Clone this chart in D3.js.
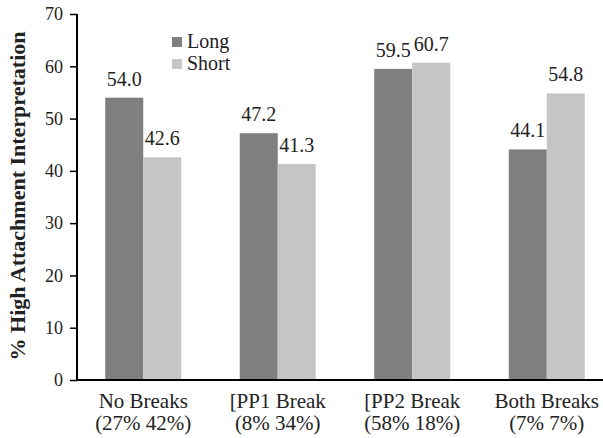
<!DOCTYPE html>
<html>
<head>
<meta charset="utf-8">
<script src="https://cdn.jsdelivr.net/npm/d3@7"></script>
<style>
  body { margin: 0; background: #fff; }
  text { font-family: "Liberation Serif", "DejaVu Serif", serif; fill: #222; }
</style>
</head>
<body>
<div id="chart"></div>
<script>
// grouped bars: long vs short, per break condition
var categories = ["No Breaks", "[PP1 Break", "[PP2 Break", "Both Breaks"];
var subLabels = ["(27% 42%)", "(8% 34%)", "(58% 18%)", "(7% 7%)"];
var longVals = [54.0, 47.2, 59.5, 44.1];
var shortVals = [42.6, 41.3, 60.7, 54.8];
var seriesNames = ["Long", "Short"];
var yTicks = [0, 10, 20, 30, 40, 50, 60, 70];

var colors = { Long: "#7f7f7f", Short: "#c4c5c5" };

var W = 603, H = 438;
var svg = d3.select("#chart").append("svg")
    .attr("width", W)
    .attr("height", H);

var y = d3.scaleLinear().domain([0, 70]).range([380, 14]);

// plot area runs a bit past the right edge of the picture
var x = d3.scaleBand()
    .domain(categories)
    .range([76, 614])
    .padding(0);

var x1 = d3.scaleBand()
    .domain(seriesNames)
    .range([0, 76]);

var data = categories.map(function (c, i) {
    return { cat: c, values: [{ key: "Long", v: longVals[i] }, { key: "Short", v: shortVals[i] }] };
});

// bars
var groups = svg.selectAll("g.grp")
    .data(data)
    .join("g")
    .attr("class", "grp")
    .attr("transform", d => "translate(" + (x(d.cat) + x.bandwidth() / 2 - 38) + ",0)");

groups.selectAll("rect")
    .data(d => d.values)
    .join("rect")
    .attr("x", d => x1(d.key))
    .attr("y", d => y(d.v))
    .attr("width", x1.bandwidth())
    .attr("height", d => y(0) - y(d.v))
    .attr("fill", d => colors[d.key]);

groups.selectAll("text.val")
    .data(d => d.values)
    .join("text")
    .attr("class", "val")
    .attr("x", d => x1(d.key) + x1.bandwidth() / 2)
    .attr("y", d => y(d.v) - 12)
    .attr("text-anchor", "middle")
    .style("font-size", "20px")
    .text(d => d.v.toFixed(1));

// y axis
var yAxis = svg.append("g")
    .attr("transform", "translate(77,0)")
    .call(d3.axisLeft(y).tickValues(yTicks).tickSize(7).tickPadding(7));
yAxis.select(".domain").attr("stroke", "#000").attr("stroke-width", 2).attr("d", "M0," + y(0) + "V" + y(70));
yAxis.selectAll(".tick line").attr("stroke", "#000").attr("stroke-width", 1.5);
yAxis.selectAll(".tick text").style("font-size", "18px").style("font-family", "Liberation Serif").attr("fill", "#222");

// x axis line
svg.append("line")
    .attr("x1", 76).attr("x2", 603)
    .attr("y1", y(0)).attr("y2", y(0))
    .attr("stroke", "#000")
    .attr("stroke-width", 2);

// category labels (two lines)
var xl = svg.selectAll("text.cat")
    .data(categories)
    .join("text")
    .attr("class", "cat")
    .attr("text-anchor", "middle")
    .style("font-size", "21px")
    .attr("x", d => x(d) + x.bandwidth() / 2)
    .attr("y", 408);
xl.append("tspan")
    .attr("x", d => x(d) + x.bandwidth() / 2)
    .text(d => d);
xl.append("tspan")
    .attr("x", d => x(d) + x.bandwidth() / 2)
    .attr("dy", 22)
    .text((d, i) => subLabels[i]);

// y title
svg.append("text")
    .attr("transform", "translate(25,196) rotate(-90)")
    .attr("text-anchor", "middle")
    .style("font-size", "22px")
    .style("font-weight", "bold")
    .text("% High Attachment Interpretation");

// legend
var legend = svg.selectAll("g.leg")
    .data(seriesNames)
    .join("g")
    .attr("class", "leg")
    .attr("transform", (d, i) => "translate(172," + (37 + i * 22) + ")");
legend.append("rect")
    .attr("width", 10).attr("height", 10)
    .attr("fill", d => colors[d]);
legend.append("text")
    .attr("x", 15)
    .attr("y", 11)
    .style("font-size", "20px")
    .text(d => d);
</script>
</body>
</html>
